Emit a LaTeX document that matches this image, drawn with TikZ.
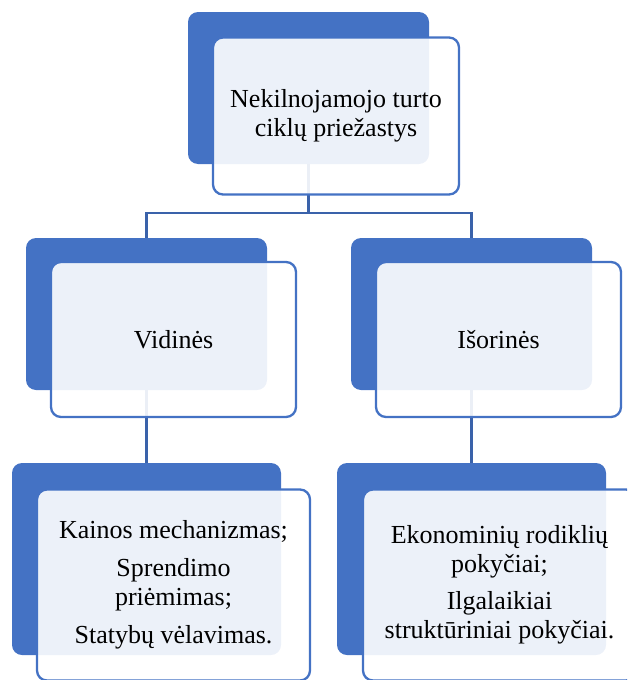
\documentclass[tikz,border=0pt]{standalone}
\usepackage{fontspec}
\setmainfont{Liberation Serif}
\definecolor{accent}{HTML}{4472C4}
\definecolor{linkblue}{HTML}{3A62AA}
\begin{document}
\begin{tikzpicture}[x=1pt,y=-1pt,
  backcard/.style={rectangle,rounded corners=10pt,fill=accent,draw=none,
    inner sep=0pt},
  frontcard/.style={rectangle,rounded corners=10pt,draw=accent,line width=2.3pt,
    fill=white,fill opacity=0.9,text opacity=1,inner sep=0pt,align=center,
    font=\fontsize{26}{29}\selectfont},
  link/.style={draw=linkblue,line width=2.3pt}]
\useasboundingbox (0,0) rectangle (627,680);
\clip (0,0) rectangle (627,680);

% coloured back cards
\node[backcard,minimum width=241pt,minimum height=152pt] (b0) at (308.5,88) {};
\node[backcard,minimum width=241pt,minimum height=152pt] (b1) at (146.5,314) {};
\node[backcard,minimum width=241pt,minimum height=152pt] (b2) at (471.5,314) {};
\node[backcard,minimum width=269pt,minimum height=192pt] (b3) at (146.5,559) {};
\node[backcard,minimum width=269pt,minimum height=192pt] (b4) at (471.5,559) {};

% connectors between the back cards
\coordinate (bus) at (308.5,213);
\draw[link] (b0.south) -- (bus) -| (b1.north);
\draw[link] (bus) -| (b2.north);
\draw[link] (b1.south) -- (b3.north);
\draw[link] (b2.south) -- (b4.north);

% translucent front cards with the texts
\node[frontcard,minimum width=246pt,minimum height=157pt] (f0) at (336,116)
  {Nekilnojamojo turto\\ciklų priežastys};
\node[frontcard,minimum width=245pt,minimum height=155pt] (f1) at (173.5,339.5)
  {Vidinės};
\node[frontcard,minimum width=245pt,minimum height=155pt] (f2) at (498.5,339.5)
  {Išorinės};
\node[frontcard,minimum width=273pt,minimum height=191pt] (f3) at (173.5,585)
  {Kainos mechanizmas;\\[9pt]Sprendimo\\priėmimas;\\[9pt]Statybų vėlavimas.};
\node[frontcard,minimum width=273pt,minimum height=191pt] (f4) at (499.5,585)
  {Ekonominių rodiklių\\pokyčiai;\\[8pt]Ilgalaikiai\\struktūriniai pokyčiai.};
\end{tikzpicture}
\end{document}
